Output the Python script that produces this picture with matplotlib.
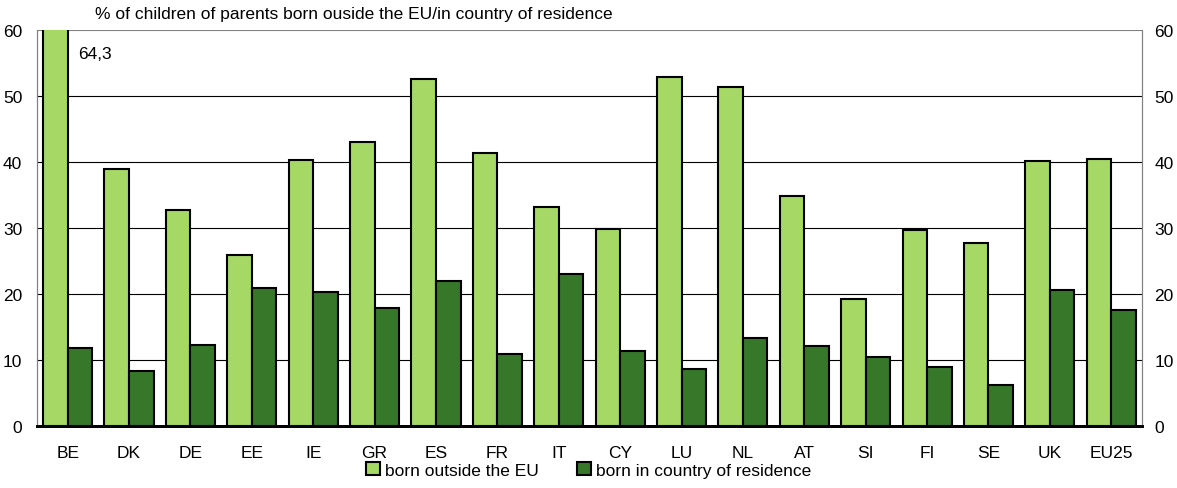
import matplotlib
matplotlib.use("Agg")
import matplotlib.pyplot as plt
from matplotlib.patches import Patch
import numpy as np

plt.rcParams['font.family'] = ['Liberation Sans', 'DejaVu Sans']

# ================= DATA =================
countries = ["BE", "DK", "DE", "EE", "IE", "GR", "ES", "FR", "IT", "CY",
             "LU", "NL", "AT", "SI", "FI", "SE", "UK", "EU25"]
outside_eu = [64.3, 38.9, 32.7, 25.9, 40.3, 43.1, 52.6, 41.4, 33.2, 29.8,
              52.9, 51.4, 34.8, 19.2, 29.7, 27.7, 40.2, 40.5]
in_country = [11.8, 8.3, 12.2, 20.9, 20.3, 17.8, 22.0, 10.9, 23.0, 11.4,
              8.6, 13.3, 12.1, 10.5, 9.0, 6.2, 20.6, 17.6]
yticks = [0, 10, 20, 30, 40, 50, 60]

LIGHT = "#a6d866"
DARK = "#37772a"
FS = 12.5

# ================= PLOT =================
fig = plt.figure(figsize=(11.77, 4.89), dpi=100)
ax = fig.add_axes([0.0314, 0.127, 0.9388, 0.8096])

x = np.arange(len(countries))
w = 0.4
ax.bar(x - w / 2, outside_eu, w, color=LIGHT, edgecolor="black", linewidth=1.5, zorder=3)
ax.bar(x + w / 2, in_country, w, color=DARK, edgecolor="black", linewidth=1.5, zorder=3)

ax.set_xlim(-0.5, len(countries) - 0.5)
ax.set_ylim(0, 60)
ax.set_yticks(yticks)
ax.set_xticks(x)
ax.set_xticklabels(countries, fontsize=FS)
ax.tick_params(axis="x", length=0, pad=14)
ax.tick_params(axis="y", labelsize=FS, length=0, pad=10.5)

# right-hand copy of the y axis
ax2 = ax.twinx()
ax2.set_ylim(ax.get_ylim())
ax2.set_yticks(yticks)
ax2.tick_params(axis="y", labelsize=FS, length=0, pad=9)

ax.grid(axis="y", color="black", linewidth=0.8, zorder=0)
ax.get_ygridlines()[-1].set_color("gray")
for a in (ax, ax2):
    a.spines["top"].set_visible(False)
    a.spines["left"].set_color("gray")
    a.spines["right"].set_color("gray")
    a.spines["bottom"].set_linewidth(2)
    a.spines["bottom"].set_zorder(4)

# clipped BE value
ax.text(0.17, 56.5, "64,3", fontsize=FS, ha="left", va="center")

fig.text(0.081, 0.971, "% of children of parents born ouside the EU/in country of residence",
         fontsize=FS, ha="left", va="center")

handles = [Patch(facecolor=LIGHT, edgecolor="black", linewidth=1.5),
           Patch(facecolor=DARK, edgecolor="black", linewidth=1.5)]
fig.legend(handles, ["born outside the EU", "born in country of residence"],
           loc="center", bbox_to_anchor=(0.5, 0.037), ncol=2, frameon=False,
           fontsize=FS, handlelength=0.8, handleheight=0.8, handletextpad=0.3,
           columnspacing=2.2)

fig.savefig("out.png", dpi=100)
